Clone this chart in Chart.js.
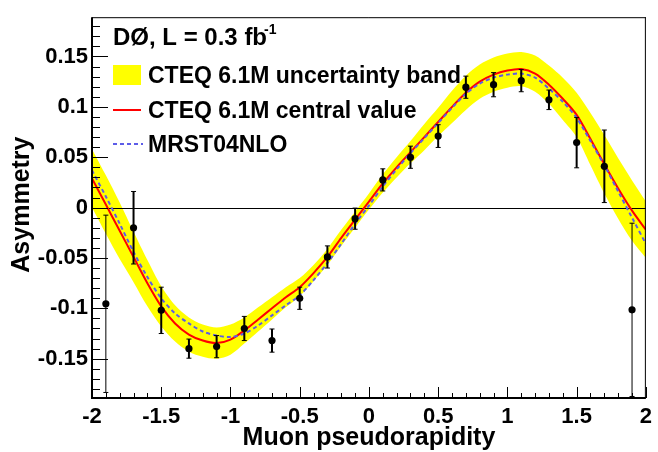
<!DOCTYPE html>
<html>
<head>
<meta charset="utf-8">
<script src="https://cdn.jsdelivr.net/npm/chart.js@4.4.0/dist/chart.umd.min.js"></script>
<style>
  html, body { margin: 0; padding: 0; background: #fff; }
  canvas { display: block; }
</style>
</head>
<body>
<canvas id="asym" width="658" height="452"></canvas>
<script>
// --- measured muon charge asymmetry (D0, 0.3 fb^-1) ---
const binCenters = [-1.9, -1.7, -1.5, -1.3, -1.1, -0.9, -0.7, -0.5, -0.3, -0.1,
                    0.1, 0.3, 0.5, 0.7, 0.9, 1.1, 1.3, 1.5, 1.7, 1.9];
const measured = [-0.0955, -0.020, -0.102, -0.140, -0.138, -0.120, -0.132, -0.090, -0.049, -0.011,
                  0.0275, 0.050, 0.071, 0.1195, 0.122, 0.126, 0.107, 0.0645, 0.041, -0.1015];
const measuredErr = [0.088, 0.036, 0.023, 0.0095, 0.011, 0.012, 0.0115, 0.011, 0.011, 0.0105,
                     0.011, 0.011, 0.0113, 0.011, 0.012, 0.011, 0.0097, 0.025, 0.036, 0.086];

// --- theory predictions, read every 0.1 in eta ---
const etaGrid = [-2.0, -1.9, -1.8, -1.7, -1.6, -1.5, -1.4, -1.3, -1.2, -1.1, -1.0,
                 -0.9, -0.8, -0.7, -0.6, -0.5, -0.4, -0.3, -0.2, -0.1, 0.0,
                 0.1, 0.2, 0.3, 0.4, 0.5, 0.6, 0.7, 0.8, 0.9, 1.0,
                 1.1, 1.2, 1.3, 1.4, 1.5, 1.6, 1.7, 1.8, 1.9, 2.0];
const cteqCentral = [0.029, 0.003, -0.023, -0.049, -0.075, -0.098, -0.115, -0.126, -0.132, -0.1345, -0.131,
                     -0.122, -0.111, -0.100, -0.089, -0.079, -0.065, -0.049, -0.030, -0.012, 0.006,
                     0.024, 0.040, 0.055, 0.070, 0.085, 0.100, 0.114, 0.125, 0.132, 0.136,
                     0.1375, 0.133, 0.122, 0.108, 0.092, 0.068, 0.043, 0.019, -0.003, -0.022];
const cteqUpper = [0.058, 0.032, 0.005, -0.024, -0.052, -0.078, -0.097, -0.109, -0.116, -0.119, -0.116,
                   -0.109, -0.099, -0.089, -0.079, -0.070, -0.057, -0.041, -0.022, -0.004, 0.014,
                   0.033, 0.050, 0.066, 0.083, 0.099, 0.116, 0.131, 0.142, 0.149, 0.153,
                   0.1545, 0.151, 0.141, 0.129, 0.114, 0.094, 0.072, 0.049, 0.027, 0.006];
const cteqLower = [0.000, -0.026, -0.051, -0.074, -0.098, -0.118, -0.133, -0.143, -0.148, -0.150, -0.146,
                   -0.135, -0.123, -0.111, -0.099, -0.088, -0.073, -0.057, -0.038, -0.020, -0.002,
                   0.015, 0.030, 0.044, 0.057, 0.071, 0.084, 0.097, 0.108, 0.115, 0.119,
                   0.1205, 0.115, 0.103, 0.087, 0.070, 0.042, 0.014, -0.011, -0.033, -0.050];
const mrst = [0.037, 0.011, -0.016, -0.044, -0.069, -0.090, -0.105, -0.115, -0.123, -0.127, -0.1285,
              -0.125, -0.117, -0.107, -0.097, -0.087, -0.072, -0.055, -0.036, -0.016, 0.002,
              0.021, 0.038, 0.054, 0.069, 0.084, 0.099, 0.113, 0.123, 0.129, 0.132,
              0.133, 0.129, 0.118, 0.105, 0.089, 0.066, 0.042, 0.016, -0.010, -0.036];

// --- axes ---
const xTickValues = [-2, -1.5, -1, -0.5, 0, 0.5, 1, 1.5, 2];
const xTickLabels = ['-2', '-1.5', '-1', '-0.5', '0', '0.5', '1', '1.5', '2'];
const yTickValues = [-0.15, -0.1, -0.05, 0, 0.05, 0.1, 0.15];
const yTickLabels = ['-0.15', '-0.1', '-0.05', '0', '0.05', '0.1', '0.15'];

const FONT = '"Liberation Sans", Arial, sans-serif';
const BLUE = 'rgb(92, 92, 232)';

const pts = (xs, ys) => xs.map((x, i) => ({ x: x, y: ys[i] }));

function line(ctx, x1, y1, x2, y2) {
    ctx.beginPath();
    ctx.moveTo(x1, y1);
    ctx.lineTo(x2, y2);
    ctx.stroke();
}

// Linha do zero (sobre a banda, por baixo das curvas) e barras de erro
const overlayPlugin = {
    id: 'overlay',
    beforeDatasetDraw(chart, args) {
        const { ctx, chartArea: a, scales: { x, y } } = chart;
        if (args.index === 2) {
            ctx.save();
            ctx.strokeStyle = '#000';
            ctx.lineWidth = 1;
            const y0 = Math.round(y.getPixelForValue(0)) + 0.5;
            line(ctx, a.left, y0, a.right, y0);
            ctx.restore();
        }
        if (args.index === 0) {
            ctx.save();
            ctx.strokeStyle = '#000';
            binCenters.forEach((eta, i) => {
                const px = x.getPixelForValue(eta);
                const top = y.getPixelForValue(measured[i] + measuredErr[i]);
                const bot = y.getPixelForValue(measured[i] - measuredErr[i]);
                ctx.lineWidth = measuredErr[i] > 0.05 ? 1 : 2;
                line(ctx, px, top, px, bot);
                ctx.lineWidth = 1;
                line(ctx, px - 2.5, top, px + 2.5, top);
                line(ctx, px - 2.5, bot, px + 2.5, bot);
            });
            ctx.restore();
        }
    },
    afterDatasetsDraw(chart) {
        const { ctx, chartArea: a, scales: { x, y } } = chart;
        ctx.save();
        ctx.strokeStyle = '#000';
        // ticks pointing inward (ROOT style)
        ctx.lineWidth = 1;
        for (let k = -18; k <= 18; k++) {
            const v = k / 100;
            const py = Math.round(y.getPixelForValue(v)) + 0.5;
            const len = (k % 5 === 0) ? 16 : 8;
            line(ctx, a.left, py, a.left + len, py);
        }
        for (let k = -20; k <= 20; k++) {
            const px = Math.round(x.getPixelForValue(k / 10)) + 0.5;
            const len = (k % 5 === 0) ? 11 : 5;
            line(ctx, px, a.bottom, px, a.bottom - len);
        }
        // frame
        line(ctx, a.left, a.top + 0.5, a.right, a.top + 0.5);
        line(ctx, a.right - 0.5, a.top, a.right - 0.5, a.bottom);
        ctx.lineWidth = 2;
        line(ctx, a.left, a.top, a.left, a.bottom + 1);
        line(ctx, a.left - 1, a.bottom, a.right, a.bottom);
        ctx.restore();
    },
    afterDraw(chart) {
        const { ctx, chartArea: a } = chart;
        ctx.save();
        ctx.fillStyle = '#000';
        ctx.textBaseline = 'alphabetic';

        // axis titles
        ctx.font = 'bold 25px ' + FONT;
        ctx.textAlign = 'center';
        ctx.fillText('Muon pseudorapidity', (a.left + a.right) / 2, 445);
        ctx.save();
        ctx.translate(29, (a.top + a.bottom) / 2 - 3);
        ctx.rotate(-Math.PI / 2);
        ctx.fillText('Asymmetry', 0, 0);
        ctx.restore();

        // legend
        ctx.textAlign = 'left';
        ctx.font = 'bold 24px ' + FONT;
        const head = 'DØ, L = 0.3 fb';
        ctx.fillText(head, 113, 45);
        const w = ctx.measureText(head).width;
        ctx.font = 'bold 14px ' + FONT;
        ctx.fillText('-1', 113 + w - 3, 34);

        ctx.font = 'bold 23px ' + FONT;
        ctx.fillStyle = '#ffff00';
        ctx.fillRect(113, 65, 28, 20);
        ctx.fillStyle = '#000';
        ctx.fillText('CTEQ 6.1M uncertainty band', 148, 83);

        ctx.strokeStyle = '#ff0000';
        ctx.lineWidth = 2;
        line(ctx, 113, 110, 141, 110);
        ctx.fillText('CTEQ 6.1M central value', 148, 118);

        ctx.strokeStyle = BLUE;
        ctx.setLineDash([4, 3]);
        line(ctx, 113, 144, 143, 144);
        ctx.setLineDash([]);
        ctx.fillText('MRST04NLO', 148, 152);
        ctx.restore();
    }
};

new Chart(document.getElementById('asym'), {
    type: 'line',
    data: {
        datasets: [
            {
                label: 'D0 data',
                type: 'scatter',
                data: pts(binCenters, measured),
                pointRadius: 3.6,
                pointBackgroundColor: '#000',
                pointBorderWidth: 0,
                showLine: false,
                order: 0
            },
            {
                label: 'MRST04NLO',
                data: pts(etaGrid, mrst),
                borderColor: BLUE,
                borderWidth: 2,
                borderDash: [4, 3],
                pointRadius: 0,
                tension: 0.3,
                fill: false,
                order: 1
            },
            {
                label: 'CTEQ 6.1M central value',
                data: pts(etaGrid, cteqCentral),
                borderColor: '#ff0000',
                borderWidth: 2,
                pointRadius: 0,
                tension: 0.3,
                fill: false,
                order: 2
            },
            {
                label: 'CTEQ 6.1M uncertainty band',
                data: pts(etaGrid, cteqUpper),
                borderWidth: 0,
                borderColor: 'rgba(0,0,0,0)',
                backgroundColor: '#ffff00',
                pointRadius: 0,
                tension: 0.3,
                fill: '+1',
                order: 3
            },
            {
                label: 'band lower',
                data: pts(etaGrid, cteqLower),
                borderWidth: 0,
                borderColor: 'rgba(0,0,0,0)',
                pointRadius: 0,
                tension: 0.3,
                fill: false,
                order: 4
            }
        ]
    },
    options: {
        responsive: false,
        animation: false,
        layout: { padding: { top: 15, right: 6, left: 0, bottom: 0 } },
        plugins: {
            legend: { display: false },
            tooltip: { enabled: false }
        },
        scales: {
            x: {
                type: 'linear',
                min: -2,
                max: 2,
                grid: { display: false, drawTicks: false },
                border: { display: false },
                afterBuildTicks: s => { s.ticks = xTickValues.map(v => ({ value: v })); },
                afterFit: s => { s.height = 54; },
                ticks: {
                    padding: 6,
                    maxRotation: 0,
                    autoSkip: false,
                    color: '#000',
                    font: { family: FONT, size: 22, weight: 'bold' },
                    callback: v => xTickLabels[xTickValues.indexOf(v)]
                }
            },
            y: {
                type: 'linear',
                min: -0.189,
                max: 0.189,
                grid: { display: false, drawTicks: false },
                border: { display: false },
                afterBuildTicks: s => { s.ticks = yTickValues.map(v => ({ value: v })); },
                afterFit: s => { s.width = 92; },
                ticks: {
                    padding: 4,
                    autoSkip: false,
                    color: '#000',
                    font: { family: FONT, size: 22, weight: 'bold' },
                    callback: v => yTickLabels[yTickValues.indexOf(v)]
                }
            }
        }
    },
    plugins: [overlayPlugin]
});
</script>
</body>
</html>
